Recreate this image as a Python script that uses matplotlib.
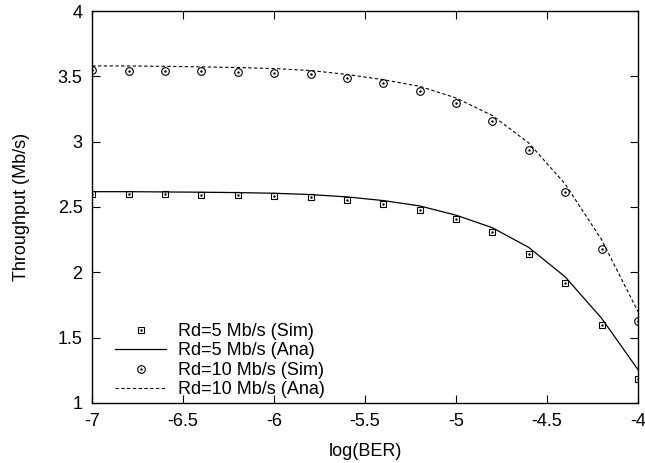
import matplotlib
matplotlib.use("Agg")
import matplotlib.pyplot as plt
import numpy as np

plt.rcParams["font.family"] = ["Liberation Sans", "DejaVu Sans"]

# log(BER) sample points
log_ber = [-7.0, -6.8, -6.6, -6.4, -6.2, -6.0, -5.8, -5.6,
           -5.4, -5.2, -5.0, -4.8, -4.6, -4.4, -4.2, -4.0]

# throughput values (Mb/s)
rd5_sim = [2.60, 2.60, 2.60, 2.595, 2.592, 2.585, 2.574, 2.555,
           2.525, 2.48, 2.41, 2.305, 2.143, 1.915, 1.595, 1.186]
rd5_ana = [2.617, 2.617, 2.615, 2.613, 2.61, 2.605, 2.595, 2.577,
           2.549, 2.508, 2.437, 2.341, 2.19, 1.965, 1.648, 1.255]
rd10_sim = [3.55, 3.545, 3.545, 3.543, 3.535, 3.525, 3.515, 3.49,
            3.449, 3.391, 3.297, 3.158, 2.935, 2.615, 2.178, 1.625]
rd10_ana = [3.58, 3.58, 3.577, 3.573, 3.568, 3.56, 3.545, 3.515,
            3.475, 3.424, 3.335, 3.20, 2.99, 2.676, 2.25, 1.70]

labels = ["Rd=5 Mb/s (Sim)", "Rd=5 Mb/s (Ana)",
          "Rd=10 Mb/s (Sim)", "Rd=10 Mb/s (Ana)"]

FS = 13

fig = plt.figure(figsize=(6.45, 4.63), dpi=100)
ax = fig.add_axes([0.143, 0.130, 0.846, 0.846])

# gnuplot-style points: open symbol with a dot in the middle
sq = ax.plot(log_ber, rd5_sim, ls="none", marker="s", ms=5, mfc="none",
             mec="black", mew=0.8)[0]
sq_dot = ax.plot(log_ber, rd5_sim, ls="none", marker=".", ms=1.5,
                 color="black")[0]
l5 = ax.plot(log_ber, rd5_ana, color="black", lw=0.9)[0]
ci = ax.plot(log_ber, rd10_sim, ls="none", marker="o", ms=5.5, mfc="none",
             mec="black", mew=0.8)[0]
ci_dot = ax.plot(log_ber, rd10_sim, ls="none", marker=".", ms=1.5,
                 color="black")[0]
l10 = ax.plot(log_ber, rd10_ana, color="black", lw=0.8,
              dashes=(3, 2.2))[0]

ax.set_xlim(-7, -4)
ax.set_ylim(1, 4)
ax.set_xticks(np.arange(-7, -3.99, 0.5))
ax.set_yticks(np.arange(1, 4.01, 0.5))
ax.set_xticklabels(["-7", "-6.5", "-6", "-5.5", "-5", "-4.5", "-4"])
ax.set_yticklabels(["1", "1.5", "2", "2.5", "3", "3.5", "4"])
ax.tick_params(direction="in", top=True, right=True, length=6,
               width=0.8, labelsize=FS, pad=7)
for s in ax.spines.values():
    s.set_linewidth(1.0)

ax.set_xlabel("log(BER)", fontsize=FS, labelpad=10)
ax.set_ylabel("Throughput (Mb/s)", fontsize=FS, labelpad=20)

ax.legend([(sq, sq_dot), l5, (ci, ci_dot), l10], labels,
          loc="lower left", bbox_to_anchor=(0.026, -0.012), frameon=False,
          fontsize=FS, handlelength=2.8, handletextpad=0.65,
          labelspacing=0.14, borderaxespad=0.1)

fig.savefig("out.png", dpi=100)
